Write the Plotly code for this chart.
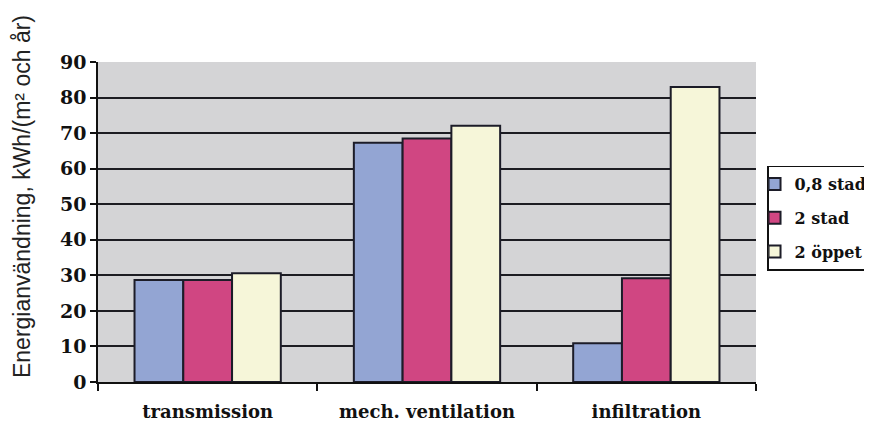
import plotly.graph_objects as go

categories = ["transmission", "mech. ventilation", "infiltration"]
series_names = ["0,8 stad", "2 stad", "2 öppet"]
vals_08_stad = [28.7, 67.3, 10.9]
vals_2_stad = [28.7, 68.5, 29.2]
vals_2_oppet = [30.6, 72.1, 83.0]
y_ticks = [0, 10, 20, 30, 40, 50, 60, 70, 80, 90]
y_title = "Energianvändning, kWh/(m² och år)"

colors = ["#93a5d3", "#d04682", "#f6f6d9"]
series_vals = [vals_08_stad, vals_2_stad, vals_2_oppet]

fig = go.Figure()
for name, vals, col in zip(series_names, series_vals, colors):
    fig.add_trace(go.Bar(
        x=categories, y=vals, name=name, legendgroup=name,
        marker=dict(color=col, line=dict(color="#1c1c28", width=2)),
    ))

serif = "DejaVu Serif"
fig.update_layout(
    width=864, height=420,
    margin=dict(l=90, r=116, t=54, b=46),
    paper_bgcolor="white",
    plot_bgcolor="#d4d4d6",
    barmode="group",
    bargap=0.333, bargroupgap=0,
    showlegend=True,
    legend=dict(
        xref="container", yref="container",
        x=0.8785, xanchor="left", y=0.5, yanchor="middle",
        bgcolor="white", bordercolor="#111", borderwidth=1.5,
        font=dict(family=serif, size=16, color="#111", weight="bold"),
        tracegroupgap=10, traceorder="grouped",
        itemwidth=30, indentation=-14,
    ),
    xaxis=dict(
        type="category", tickson="boundaries", ticks="outside", ticklen=7,
        tickwidth=1.5, tickcolor="#111",
        showline=True, linecolor="#111", linewidth=1.5,
        tickfont=dict(family=serif, size=18, color="#111", weight="bold"),
        ticklabelstandoff=13, automargin=False,
        showgrid=False,
    ),
    yaxis=dict(
        range=[0, 90], tickvals=y_ticks, ticks="outside", ticklen=6,
        tickwidth=1.5, tickcolor="#111",
        showline=True, linecolor="#111", linewidth=1.5,
        showgrid=True, gridcolor="#1c1c22", gridwidth=1.5,
        zeroline=False, automargin=False,
        tickfont=dict(family=serif, size=19, color="#111", weight="bold"),
    ),
    annotations=[dict(
        text=y_title, textangle=-90, showarrow=False,
        xref="paper", yref="paper", x=-0.1155, y=0.578,
        xanchor="center", yanchor="middle",
        font=dict(family="Liberation Sans, Arial, sans-serif", size=23, color="#222"),
    )],
)

fig.write_html("out.html")
